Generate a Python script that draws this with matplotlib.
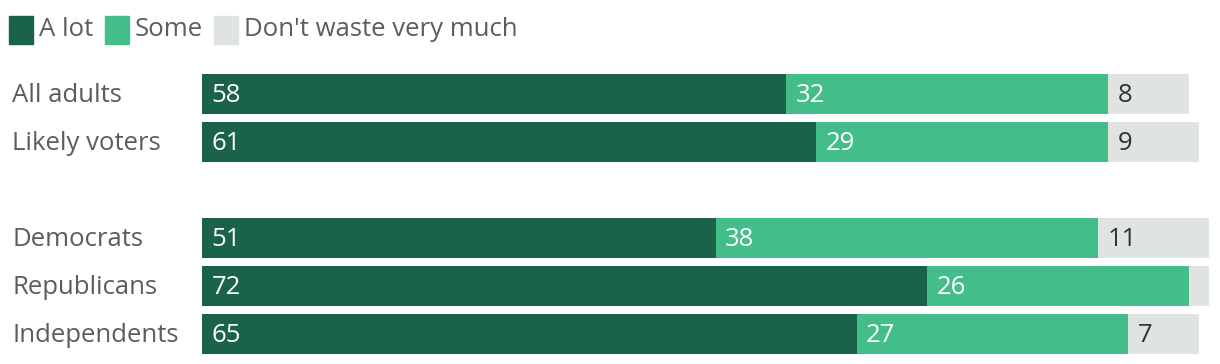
import matplotlib.pyplot as plt
from matplotlib.patches import Rectangle

plt.rcParams['font.family'] = ['Open Sans', 'DejaVu Sans']

# Survey shares (%)
groups = ['All adults', 'Likely voters', 'Democrats', 'Republicans', 'Independents']
rows = [0, 1, 3, 4, 5]
a_lot = [58, 61, 51, 72, 65]
some = [32, 29, 38, 26, 27]
not_much = [8, 9, 11, 2, 7]

series = ['A lot', 'Some', "Don't waste very much"]
colors = ['#1a634a', '#43bd8a', '#dfe4e2']
text_colors = ['white', 'white', '#333333']

W, H = 1220, 364
FS = 18.5
fig = plt.figure(figsize=(W / 100, H / 100), dpi=100)
ax = fig.add_axes([202 / W, 1 - 357.5 / H, (1209 - 202) / W, (357.5 - 69.5) / H])

left = [0] * len(groups)
for vals, col, tcol in zip([a_lot, some, not_much], colors, text_colors):
    ax.barh(rows, vals, left=left, height=40 / 48, color=col, edgecolor='none')
    for y, l, v in zip(rows, left, vals):
        if v >= 5:
            ax.text(l + 0.95, y + 0.04, str(v), color=tcol, fontsize=FS, va='center', ha='left')
    left = [l + v for l, v in zip(left, vals)]

ax.set_xlim(0, 100)
ax.set_ylim(5.5, -0.5)
ax.axis('off')

for g, y in zip(groups, rows):
    ax.text(-190 / 10.07, y + 0.04, g, color='#5a5c60', fontsize=FS, va='center', ha='left')

# legend
leg_x = [9, 105, 214]
for x, lab, col in zip(leg_x, series, colors):
    fig.patches.append(Rectangle((x / W, 1 - 44 / H), 24 / W, 28 / H,
                                 transform=fig.transFigure, color=col))
    fig.text((x + 30) / W, 1 - 29 / H, lab, color='#5a5c60', fontsize=FS, va='center', ha='left')

fig.savefig('out.png', dpi=100)
